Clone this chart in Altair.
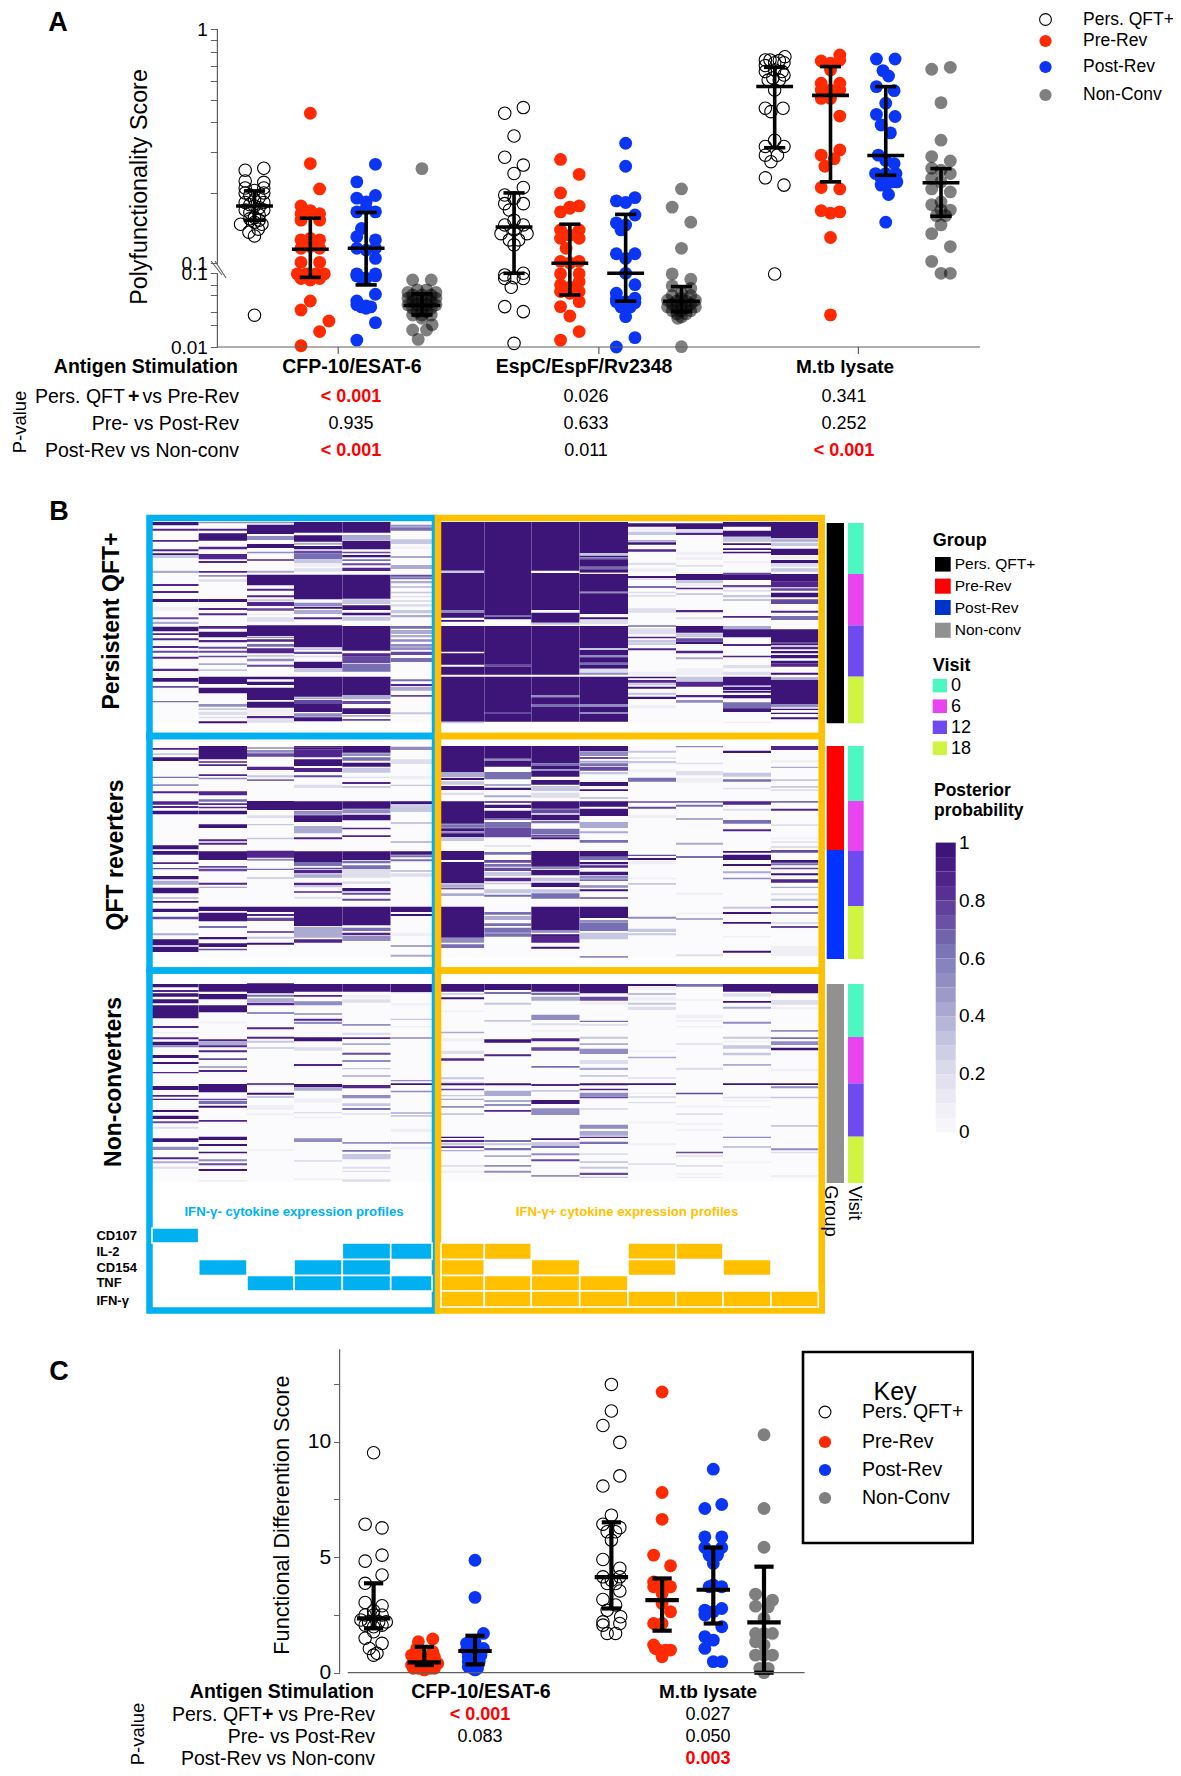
import altair as alt
import pandas as pd

FONT = "Liberation Sans"
RED, BLUE, GRAY = "#ff2a00", "#0a35f5", "#7f7f7f"
AXC = "#5f5f5f"

# ---------- Panel A: (swarm offset, score) per group ----------
A_PERS_CFP = [(-1,.25),(1,.255),(-1,.225),(1,.222),(-1,.21),(1,.21),(0,.205),(-1,.2),(1,.2),(-.5,.196),(.5,.191),(0,.187),(-1,.182),(1,.182),(-.5,.178),(.5,.173),(0,.176),(-1,.169),(1,.169),(-.5,.165),(.5,.161),(0,.157),(-.5,.155),(.5,.153),(0,.15),(-1.5,.147),(.8,.147),(-.6,.136),(.4,.14),(0,.131),(0,.027)]
A_PRE_CFP = [(0,.438),(0,.267),(1,.208),(-1,.176),(-1,.163),(1,.163),(0,.168),(-1,.153),(1,.153),(-1,.126),(1,.126),(0,.128),(-1,.116),(1,.116),(0,.118),(-1,.101),(1,.101),(-1.4,.098),(-.4,.098),(.6,.098),(1.5,.098),(0,.081),(-1,.085),(1,.085),(0,.042),(-1,.0318),(2,.0225),(1,.0162),(-1,.0104)]
A_POST_CFP = [(1,.265),(-1,.223),(1,.195),(-1,.19),(0,.183),(-1,.166),(1,.166),(0,.172),(-.5,.141),(-1,.13),(1,.126),(-1,.116),(1,.116),(0,.114),(1,.105),(-1,.098),(1,.098),(-1,.092),(1,.092),(0,.0855),(-.5,.0855),(1,.0519),(-1,.042),(-1,.0375),(0,.036),(-.5,.035),(.5,.035),(0,.0335),(1,.0214),(-1,.0124)]
A_NON_CFP = [(0,.254),(-1,.081),(1,.081),(-1.5,.055),(1.5,.055),(-.5,.0595),(.5,.0595),(0,.0508),(-1,.0508),(1,.0508),(-.5,.0458),(.5,.0458),(-1.5,.0458),(1.5,.0458),(0,.0412),(-1,.0412),(1,.0412),(-.5,.0372),(.5,.0372),(-1.5,.0372),(1.5,.0372),(0,.0335),(-1,.0335),(1,.0335),(-.5,.0302),(.5,.0302),(0,.0272),(-1,.0272),(1,.0272),(0,.0245),(1.1,.02),(-1,.017),(.5,.017),(-.4,.0127)]
A_PERS_ESP = [(-1,.438),(1,.463),(0,.35),(-1,.284),(1,.263),(0,.242),(1,.211),(-1,.196),(0,.19),(-1,.18),(1,.18),(-.5,.169),(0,.153),(-1,.146),(1,.146),(0,.139),(-1.4,.134),(1.4,.134),(-.5,.126),(.5,.126),(0,.12),(-1,.095),(1,.0999),(-1,.085),(0,.087),(1,.085),(-.3,.0645),(-1,.0353),(1,.0302),(0,.0112)]
A_PRE_ESP = [(-1,.278),(1,.24),(-1,.2),(0,.174),(1,.176),(-1,.166),(0,.172),(-1,.139),(1,.139),(0,.132),(-1,.128),(1,.128),(-.4,.116),(-1,.102),(1,.102),(0,.1005),(-1,.098),(1,.098),(-1,.07),(1,.077),(0,.065),(-1,.0565),(1,.0565),(0,.0535),(-1,.0353),(1,.0413),(0,.0263),(1,.0162),(-1,.0124)]
A_POST_ESP = [(0,.326),(0,.26),(-1,.185),(0,.182),(1,.191),(1,.161),(-1,.149),(0,.146),(-.5,.139),(-1,.11),(1,.11),(0,.105),(0,.0999),(1,.07),(-1,.0535),(1,.0458),(-1,.045),(1,.04),(0,.0412),(-1,.0412),(0,.0335),(-.5,.035),(.5,.035),(0,.0258),(1,.0134),(-1,.01)]
A_NON_ESP = [(0,.208),(-1,.174),(1,.15),(0,.116),(-1,.098),(1,.083),(-1,.0675),(1,.0625),(0,.0535),(-1,.05),(1,.05),(0,.046),(-1.5,.043),(1.5,.043),(-.5,.042),(.5,.042),(0,.038),(-1,.038),(1,.038),(-1.5,.035),(1.5,.035),(-.5,.034),(.5,.034),(0,.031),(-1,.031),(1,.031),(-.5,.028),(.5,.028),(0,.0255),(-.4,.0245),(0,.0101)]
A_PERS_MTB = [(-1,.74),(1.1,.764),(0,.72),(-.5,.74),(.5,.735),(-1,.7),(1,.72),(-1,.66),(1,.638),(0,.67),(-.7,.607),(.5,.607),(.8,.66),(-.2,.62),(0,.55),(-1,.46),(.9,.46),(-.4,.445),(0,.336),(-1,.316),(1,.316),(-1,.29),(.3,.29),(-.4,.272),(-1,.232),(1,.216),(0,.0978)]
A_PRE_MTB = [(1,.777),(-1,.732),(0,.716),(1,.74),(0,.67),(-1,.588),(1,.588),(0,.55),(-1,.55),(0,.507),(-1,.507),(1,.55),(1,.426),(-1,.29),(1,.305),(.4,.28),(-.6,.26),(-1,.211),(1,.208),(-1,.168),(0,.164),(1,.166),(0,.129),(0,.0273)]
A_POST_MTB = [(-1,.747),(1,.747),(-.3,.666),(.3,.632),(-1,.569),(.9,.547),(0,.483),(-1,.433),(1,.424),(-.5,.39),(.5,.361),(-.8,.29),(.9,.267),(0,.275),(-1.1,.242),(0,.242),(1.1,.242),(-.5,.231),(.7,.223),(0,.216),(1.2,.223),(-.5,.216),(.3,.197),(0,.15)]
A_NON_MTB = [(-1,.675),(1,.688),(0,.486),(0,.336),(-1,.286),(1,.274),(-1,.255),(0,.25),(1,.242),(-1,.231),(0,.223),(-1,.208),(1,.202),(0,.183),(-1,.178),(1,.169),(0,.169),(-.5,.16),(.5,.16),(0,.146),(-1,.134),(1,.118),(-1,.102),(0,.0999),(1,.0999)]
A_SLOTS = [1,2,3,4,5.65,6.65,7.65,8.65,10.32,11.32,12.31,13.3]
A_MED = [.176,.115,.116,.0365,.143,.1001,.0999,.0418,.57,.522,.289,.221]
A_HI = [.204,.156,.165,.0525,.2,.147,.162,.066,.688,.693,.569,.254]
A_LO = [.153,.088,.0695,.0272,.0999,.0508,.0418,.0302,.312,.223,.238,.159]
A_TICKS = [.01,.02,.03,.05,.07,.0999,.1001,.2,.3,.4,.5,.6,.7,.8,.9,1]

# ---------- Panel C ----------
C_PERS_CFP = [(0,9.52),(-1,6.43),(1,6.27),(1,5.09),(-1,4.83),(1,4.23),(-1,3.87),(-1,3.04),(1,2.9),(0,2.68),(-1,2.5),(0,2.5),(1,2.5),(-1.5,2.28),(-.6,2.2),(.6,2.2),(1.5,2.2),(-1,2.06),(0,1.99),(1,2.06),(0,1.77),(-1,1.49),(1,1.27),(-.5,1.05),(0,.76),(.4,.84)]
C_PRE_CFP = [(-.7,1.34),(1,1.46),(-1.5,.76),(-.9,1.05),(1,.91),(-1,.76),(1.2,.69),(0,.62),(-.7,.48),(.7,.48),(-1.5,.33),(1.6,.4),(-.7,.19),(0,.12),(.7,.19),(-1.3,.19),(1.2,.19),(0,.3)]
C_POST_CFP = [(0,4.87),(0,3.26),(1,1.7),(-1,1.27),(0,1.34),(-1,.98),(1,1.05),(0,.84),(-.8,.69),(.7,.76),(0,.62),(-.8,.48),(.5,.48),(-.3,.19),(.3,.19),(0,.12),(-.8,.26)]
C_PERS_MTB = [(0,12.48),(0,11.33),(-1,10.7),(1,9.97),(1,8.52),(-1,8.08),(0,6.82),(-1,6.43),(1,6.28),(-.5,6.1),(.5,6.1),(0,5.74),(-1,4.9),(1,4.52),(-1,4.15),(1,4.15),(0,4.0),(.5,3.86),(-.5,3.86),(1,3.54),(-1,3.17),(.5,2.93),(-.5,2.7),(1.1,2.42),(-1,2.2),(1,2.13),(-1,2.06),(-.5,1.7),(.5,1.7)]
C_PRE_MTB = [(0,12.15),(0,7.8),(0,6.64),(-1,5.09),(1,4.63),(-1,3.93),(0,3.86),(1,3.72),(-1,3.72),(0,3.43),(0,3.0),(1,2.64),(-1,2.13),(0,2.13),(-1,1.2),(1,.98),(-.4,.98),(.4,.98),(0,.69),(-.8,1.05)]
C_POST_MTB = [(0,8.81),(-1,7.11),(1,7.28),(-1,5.88),(1,5.88),(-1,5.42),(1,5.42),(0,5.23),(-.5,5.09),(.5,5.09),(0,4.73),(-.5,3.72),(1,3.72),(0,3.8),(-1,2.71),(1,2.78),(0,2.64),(-1,2.5),(1,1.99),(-1,1.56),(0,1.41),(-1,1.05),(0,.48),(1,.48)]
C_NON_MTB = [(0,10.3),(0,7.11),(0,5.43),(-1,3.4),(1,3.14),(-1,2.88),(.5,2.85),(0,2.35),(-1,1.7),(1,1.7),(0,1.7),(-1,1.34),(0,1.2),(-1,.76),(1,.76),(0,.76),(-.5,.19),(.5,.19),(0,0)]
C_SLOTS = [1,2,3,5.69,6.69,7.7,8.7]
C_MED = [2.35,.45,.94,4.14,3.14,3.59,2.18]
C_HI = [3.87,1.12,1.6,6.51,4.08,5.42,4.59]
C_LO = [1.92,.33,.36,2.78,1.82,2.13,0]
C_TICKS = [0,2.5,5,7.5,10,12.5]

# ---------- Panel B heat map: "first_row-last_row:level" bands per column ----------
HEAT_1 = [
"66-76:9 86-92:8 120-125:8 148-154:8 160-166:9 166-174:3 212-219:4 252-258:8 273-279:8 297-306:9 320-332:1 352-358:7 365-372:4 380-394:9 400-405:8 415-421:8 438-444:8 452-458:7 470-476:8 506-513:8 534-545:9 558-563:7 603-607:6",
"66-70:5 86-92:8 100-122:9 140-148:8 162-178:8 183-189:8 213-218:8 225-230:5 238-245:2 297-306:9 324-330:8 340-346:8 378-386:8 395-412:9 420-427:8 440-446:7 452-458:7 467-472:7 490-495:4 508-513:3 530-552:9 563-580:9 612-620:5 625-630:3 635-645:2 650-655:2 664-670:9",
"66-70:5 74-102:9 108-120:5 132-144:9 155-160:5 178-182:8 212-218:4 224-256:9 266-272:8 286-292:8 298-304:3 306-318:8 325-332:7 340-346:1 352-365:2 376-408:9 410-414:5 418-425:8 432-440:6 445-460:8 465-470:3 476-484:5 494-500:7 530-538:9 545-555:9 563-600:9 605-623:9 625-645:1 648-655:8 658-668:2",
"66-98:9 106-125:9 128-134:4 138-148:9 152-160:7 160-178:6 178-190:3 192-200:1 205-215:2 224-298:9 308-318:5 320-326:9 330-342:4 352-358:8 376-442:9 445-450:3 455-462:7 467-472:2 485-505:9 506-516:3 530-590:9 592-598:4 600-612:7 612-636:9 640-650:5 652-664:9",
"66-98:9 105-120:4 122-148:9 155-160:7 165-172:9 178-183:6 190-196:7 203-213:8 224-296:9 298-312:3 316-330:9 338-346:9 350-362:3 378-452:9 460-470:8 470-490:7 492-515:6 530-585:9 585-598:4 603-612:7 625-642:9 645-650:4 657-662:7",
"74-80:5 82-92:6 118-132:3 140-146:1 168-174:4 195-207:4 224-230:7 232-238:6 243-250:4 258-264:3 275-280:3 288-292:2 300-306:2 312-320:2 330-340:3 345-352:4 378-386:6 390-402:4 405-412:4 418-425:5 432-440:5 442-450:5 455-465:7 474-486:6 538-544:6 552-558:8 560-572:4 585-590:7 637-643:3",
"66-212:9 212-219:3 219-330:9 330-338:5 338-353:9 360-365:9 378-455:9 460-494:9 500-524:9 530-665:9 665-670:3",
"66-345:9 345-350:6 350-358:9 378-494:9 494-500:7 500-524:9 530-636:9 636-642:7 642-665:9",
"66-212:9 219-330:9 338-368:9 368-374:3 378-524:9 530-585:9 585-592:5 592-612:9 612-620:6 620-665:9",
"66-160:9 160-167:3 167-172:9 172-178:6 178-200:9 200-208:6 208-218:9 218-222:1 222-275:9 275-280:5 280-342:9 352-358:9 360-372:2 378-445:9 445-450:3 450-465:9 465-472:5 472-488:9 488-495:6 495-506:9 506-518:2 518-524:5 530-612:9 612-620:5 620-636:9 636-642:5 642-665:9",
"70-80:9 82-92:1 95-105:3 120-125:4 127-134:9 148-155:8 188-195:2 205-215:1 228-234:9 234-240:2 258-264:6 275-280:2 285-290:2 325-338:2 376-380:6 385-402:2 410-415:8 420-428:3 430-435:3 445-451:8 515-525:1 530-535:9 540-548:8 550-556:3 560-566:9 578-585:3 590-597:9 615-625:1",
"70-88:9 88-98:2 98-105:8 155-165:1 170-180:1 195-200:2 222-240:9 240-250:3 250-258:1 263-268:8 280-285:3 330-337:8 352-358:2 378-398:9 400-412:3 415-425:7 425-432:9 452-460:8 472-478:4 505-525:1 530-545:3 545-560:8 585-592:8 600-608:5",
"66-80:9 92-110:9 110-125:3 130-135:9 145-150:9 155-160:9 183-190:1 218-225:7 225-240:9 255-262:7 270-275:2 285-292:3 297-303:3 348-353:8 378-388:4 388-412:9 432-438:8 467-472:8 495-505:2 515-525:2 530-555:9 555-558:5 560-570:9 572-578:9 585-595:9 607-625:6 625-636:9 665-670:1",
"66-115:9 118-125:4 128-138:3 146-165:9 168-178:1 180-190:9 190-200:2 205-215:3 222-245:9 245-262:8 265-272:7 278-292:9 298-312:7 332-338:8 348-360:6 388-428:9 430-436:9 440-448:8 453-460:9 465-475:9 482-490:9 490-500:8 518-524:9 532-540:4 540-612:9 612-622:5 626-630:9 638-642:9 652-658:9",
]
HEAT_2 = [
"36-41:8 52-57:3 64-75:9 122-126:6 145-150:5 166-172:8 196-206:8 210-216:8 224-235:9 328-340:9 345-356:9 379-384:8 396-400:7 420-430:9 434-446:4 455-472:9 483-489:3 495-500:9 518-528:9 542-550:7 592-598:4 610-628:9 632-648:9",
"30-70:9 76-80:8 85-90:8 115-120:8 125-130:5 166-178:8 190-197:6 202-207:8 212-217:8 224-235:9 265-276:9 310-316:8 320-326:8 346-372:9 390-395:7 398-406:7 440-446:8 452-456:4 512-525:9 530-556:9 570-576:6 603-610:9 622-633:9 638-643:7",
"34-38:5 42-50:5 52-62:7 92-102:8 118-124:3 130-135:6 195-222:9 238-246:2 264-268:3 305-310:3 344-365:8 368-374:5 398-402:6 424-428:3 512-528:9 534-540:8 545-555:7 586-590:8 602-608:3 620-626:9",
"30-34:8 34-40:9 40-64:8 70-90:9 96-108:8 118-124:7 146-156:2 196-222:9 224-236:5 238-258:9 270-292:4 304-310:8 346-378:9 378-390:6 395-400:7 402-412:8 415-425:4 440-448:8 450-454:3 466-470:8 482-488:2 512-570:9 572-605:4 610-620:8",
"30-50:9 52-60:5 64-74:6 80-92:9 95-110:3 122-126:2 138-144:8 150-156:3 196-218:9 220-232:5 236-253:9 275-280:8 298-303:8 346-372:9 374-382:6 388-400:6 400-425:2 436-444:2 456-466:9 470-476:7 488-494:7 512-568:9 575-585:6 590-598:8 600-615:5",
"32-42:5 70-84:2 120-130:1 146-150:3 196-205:9 208-228:3 258-264:3 316-320:4 346-356:9 358-364:6 370-376:6 402-408:3 412-422:2 512-528:9 534-540:9 590-600:1 628-632:5 656-662:4",
"30-108:9 108-124:4 126-132:9 136-146:3 150-162:9 170-177:2 196-263:9 265-275:6 277-286:9 286-292:5 292-304:9 304-315:3 345-372:9 378-442:9 445-455:4 457-460:9 472-480:4 512-605:9 605-620:5 625-636:6",
"30-68:9 68-74:5 74-92:9 108-130:6 144-150:4 155-162:9 178-184:4 196-200:9 206-216:9 224-246:9 246-252:6 258-275:6 275-304:7 328-332:2 348-356:6 372-380:7 384-392:6 395-405:7 408-420:3 425-436:8 440-445:3 460-472:3 476-482:6 528-536:6 540-552:4 562-570:6 575-590:6 592-602:6",
"30-82:9 82-90:6 90-100:9 100-105:5 105-122:9 132-146:9 150-165:3 170-185:2 196-218:9 220-232:7 236-252:9 254-262:6 278-295:6 296-302:7 304-310:9 345-392:9 392-400:5 402-418:9 425-436:3 440-453:9 460-470:3 472-488:6 512-582:9 582-590:5 595-600:9 600-620:8 632-638:9",
"30-45:9 46-60:5 64-68:9 74-80:4 82-90:6 92-104:7 108-115:3 138-150:9 160-165:9 183-189:3 196-212:9 218-240:9 258-276:4 286-292:4 312-320:6 345-362:9 362-372:6 378-385:9 388-395:8 407-418:9 420-428:5 430-435:6 448-455:5 460-466:9 484-488:7 512-546:9 552-560:5 560-585:6 590-610:3 660-665:5",
"44-50:3 64-68:2 75-82:3 100-108:1 125-137:6 196-200:7 212-218:7 236-246:1 356-360:7 366-372:9 374-385:1 425-430:1 441-446:3 542-548:5 578-588:3 592-598:3",
"30-34:5 80-85:2 105-118:2 125-140:1 195-200:6 206-212:6 246-252:4 320-326:4 360-366:6 470-476:1 530-535:1 546-552:4 655-661:2",
"44-51:9 110-122:3 130-137:6 155-160:2 196-206:8 218-224:2 252-263:6 280-286:8 345-350:9 356-372:9 384-390:9 406-412:4 425-430:5 512-518:3 528-534:9 558-563:9 600-604:1 644-650:9",
"30-42:8 72-80:1 92-96:4 130-135:3 150-155:3 160-165:2 195-200:6 218-224:8 265-270:2 305-310:1 316-320:2 330-336:2 342-350:7 372-380:9 382-388:6 395-400:7 412-418:9 430-440:8 452-456:4 472-478:2 488-494:3 510-516:8 528-534:5 558-564:2 570-576:7 630-660:1",
]
HEAT_3 = [
"42-52:9 60-66:8 70-80:9 88-100:9 106-145:9 168-174:8 186-190:1 202-208:8 215-226:9 226-232:5 255-264:9 276-282:9 306-310:8 348-360:9 375-380:8 386-390:8 420-426:9 437-447:9 454-460:7 470-476:2 505-516:9 530-540:5 562-568:8 574-580:4 590-596:2",
"42-65:9 72-88:9 106-127:9 155-160:1 208-214:8 214-226:4 226-232:8 241-247:8 265-270:7 288-294:4 300-306:8 342-367:9 386-390:7 392-402:6 407-413:9 450-455:8 500-510:9 522-528:9 545-550:9 568-574:5 580-586:7 597-603:9 630-635:1",
"40-70:9 74-80:6 85-97:4 98-106:8 126-132:5 172-178:8 200-206:8 212-218:3 232-236:3 340-344:9 345-348:1 368-374:9 378-384:3 405-420:1 430-436:1 538-542:1",
"42-65:9 75-80:8 94-106:5 130-134:5 146-152:8 155-162:5 202-214:9 232-242:2 282-288:8 342-352:9 352-362:4 385-398:1 426-430:2 440-445:1 505-516:5 570-575:2 625-630:1",
"42-65:9 75-85:1 88-98:2 162-167:5 188-195:2 202-207:8 220-225:4 248-254:7 270-276:5 294-298:3 316-320:4 345-355:8 375-385:5 400-408:3 414-420:6 430-434:2 516-521:5 540-545:6 552-568:3 590-596:2 602-606:2 628-635:2",
"42-66:9 66-70:2 100-106:1 146-150:3 168-172:1 202-206:5 330-334:5 340-345:9 362-367:5 427-431:4 435-440:3 476-486:1 516-521:5 530-538:1",
"42-65:9 70-74:3 82-88:9 122-126:1 185-190:4 205-214:1 242-252:2 265-272:8 322-328:3 335-340:2 340-346:9 356-361:7 375-379:3 386-390:4 408-413:5 430-435:3 500-504:9 510-516:8 518-526:3 529-534:8 540-544:4 585-590:2 602-608:1",
"42-60:9 66-72:6 98-104:3 150-155:3 208-218:9 253-259:8 340-346:9 362-378:4 390-396:4 402-408:5 420-425:8 510-516:6 520-526:3 534-541:6 556-561:4 585-590:5 602-608:5",
"42-65:9 68-75:6 80-92:4 134-150:5 160-166:2 180-185:1 205-214:8 232-242:7 288-293:6 342-348:8 360-365:3 390-402:9 415-435:5 505-510:9 516-528:3 528-534:6 550-556:5 568-574:7 615-620:5",
"42-70:9 80-92:7 96-104:1 152-156:6 162-167:2 200-206:3 220-225:4 236-252:5 270-282:2 293-300:4 315-320:3 340-346:9 356-361:8 368-380:5 380-385:7 414-420:2 464-476:5 483-497:4 500-504:8 515-522:6 550-555:2 574-579:3 590-596:3 608-615:7 620-624:3",
"42-48:9 48-60:1 70-74:4 80-92:1 98-104:3 110-120:2 242-246:1 260-265:4 322-326:2 340-345:9 368-372:1 378-384:2 396-400:2 455-460:1 520-526:1 580-585:2",
"42-50:6 88-92:1 134-145:1 150-155:1 168-172:1 220-224:2 293-300:2 368-373:7 407-412:1 430-435:2 460-465:1 478-482:1 545-550:7 556-560:2 585-590:2 610-614:1 620-624:1",
"42-65:9 70-80:2 93-98:9 110-116:4 155-161:5 200-206:3 212-217:1 226-236:3 248-256:3 282-287:4 340-345:9 380-385:2 390-394:1 408-412:1 500-504:5 528-534:3 575-578:1",
"42-70:9 90-104:2 112-118:1 180-185:5 202-207:6 214-225:5 233-241:9 296-304:1 340-345:9 349-355:5 380-385:3 465-470:3 535-541:5 545-550:2 615-622:1",
]
HEAT_EXTENT = [(66,670),(30,665),(42,635)]
HEAT_COLS = [0,1,2,3,4,5,7,8,9,10,11,12,13,14]

# Cytokine profile grid: (row, column) that are expressed
CYTO_ROWS = ["CD107","IL-2","CD154","TNF","IFN-γ"]
CYTO_LEFT = [(0,0),(1,4),(1,5),(2,1),(2,3),(2,4),(3,2),(3,3),(3,4),(3,5)]
CYTO_RIGHT = [(1,7),(1,8),(1,11),(1,12),(2,7),(2,9),(2,11),(2,13),(3,7),(3,8),(3,9),(3,10),
              (4,7),(4,8),(4,9),(4,10),(4,11),(4,12),(4,13),(4,14)]

# Side annotation bars, in heat-map rows
VISIT_EDGES = [[69,222,376,530,670],[30,195,345,510,669],[42,201,340,500,639]]
VISIT_COLORS = ["#4cf7c1","#ea44f2","#6e4af0","#cff542"]
GROUP_EDGES = [[69,670],[30,342,669],[42,639]]
GROUP_COLORS = [["#000000"],["#ff0000","#0033ff"],["#919191"]]
COLORBAR = [0,.05,.1,.15,.2,.25,.3,.35,.4,.45,.5,.55,.6,.65,.7,.75,.8,.85,.9,.95]
COLORBAR_TICKS = [0,.2,.4,.6,.8,1]
PURPLE_STOPS = [0,.125,.25,.375,.5,.625,.75,.875,1]
PURPLE_COLORS = ["#fcfbfd","#efedf5","#dadaeb","#bcbddc","#9e9ac8","#807dba","#6a51a3","#54278f","#3d1478"]

# ---------- helpers ----------
L = []

def T(s, x, y, size=18, bold=False, color="black", align="center", angle=None):
    kw = dict(font=FONT, fontSize=size, color=color, align=align, baseline="middle",
              fontWeight="bold" if bold else "normal")
    if angle is not None:
        kw["angle"] = angle
    L.append(alt.Chart(pd.DataFrame({"t": [s]})).mark_text(**kw).encode(
        x=alt.value(x - 8), y=alt.value(y - 8), text="t:N"))

def marker(kind, x, y):
    df = pd.DataFrame({"k": [kind]})
    if kind == "pers":
        m = alt.Chart(df).mark_point(filled=False, stroke="black", strokeWidth=1.1, size=140, opacity=1)
    else:
        m = alt.Chart(df).mark_circle(color={"pre": RED, "post": BLUE, "non": GRAY}[kind], size=150, opacity=1)
    L.append(m.encode(x=alt.value(x - 8), y=alt.value(y - 8)))

def box(x0, x1, y0, y1, **kw):
    L.append(alt.Chart(pd.DataFrame({"k": [0]})).mark_rect(**kw).encode(
        x=alt.value(x0 - 8), x2=alt.value(x1 - 8), y=alt.value(y0 - 8), y2=alt.value(y1 - 8)))

def swarm(groups, slots, xs, ys, kind, non_alpha=1.0):
    rows = [{"x": s + o / 6, "y": v} for g, s in zip(groups, slots) for o, v in g]
    df = pd.DataFrame(rows)
    if kind == "pers":
        m = alt.Chart(df).mark_point(filled=False, stroke="black", strokeWidth=1.1, size=155, opacity=1)
    elif kind == "non":
        m = alt.Chart(df).mark_circle(color="black" if non_alpha < 1 else GRAY, size=165, opacity=non_alpha)
    else:
        m = alt.Chart(df).mark_circle(color=RED if kind == "pre" else BLUE, size=165, opacity=1)
    L.append(m.encode(x=alt.X("x:Q", scale=xs, axis=None), y=alt.Y("y:Q", scale=ys, axis=None)))

def bars(slots, med, hi, lo, xs, ys, w):
    v = pd.DataFrame({"x": slots, "hi": hi, "lo": lo})
    L.append(alt.Chart(v).mark_rule(color="black", strokeWidth=w).encode(
        x=alt.X("x:Q", scale=xs, axis=None), y=alt.Y("lo:Q", scale=ys, axis=None), y2="hi:Q"))
    rows = []
    for s, m, h, l in zip(slots, med, hi, lo):
        rows += [{"a": s - .33, "b": s + .33, "y": m}, {"a": s - .19, "b": s + .19, "y": h},
                 {"a": s - .19, "b": s + .19, "y": l}]
    L.append(alt.Chart(pd.DataFrame(rows)).mark_rule(color="black", strokeWidth=w).encode(
        x=alt.X("a:Q", scale=xs, axis=None), x2="b:Q", y=alt.Y("y:Q", scale=ys, axis=None)))

# ---------- Panel A ----------
XA = alt.Scale(domain=[1, 13.3], range=[246.5, 933], zero=False, nice=False)
YA = alt.Scale(type="log", domain=[.01, .0999, .1001, 1], range=[339, 265.3, 255.3, 21.3], nice=False)
swarm([A_PERS_CFP, A_PERS_ESP, A_PERS_MTB], A_SLOTS[0::4], XA, YA, "pers")
swarm([A_PRE_CFP, A_PRE_ESP, A_PRE_MTB], A_SLOTS[1::4], XA, YA, "pre")
swarm([A_POST_CFP, A_POST_ESP, A_POST_MTB], A_SLOTS[2::4], XA, YA, "post")
swarm([A_NON_CFP, A_NON_ESP, A_NON_MTB], A_SLOTS[3::4], XA, YA, "non", non_alpha=.5)
bars(A_SLOTS, A_MED, A_HI, A_LO, XA, YA, 3.6)

# axis A: broken left axis and baseline
L.append(alt.Chart(pd.DataFrame({"a": [1, .0999], "b": [.1001, .01]})).mark_rule(color=AXC, strokeWidth=1.2).encode(
    x=alt.value(217.4 - 8),
    y=alt.Y("a:Q", scale=YA, title=None, axis=alt.Axis(
        orient="left", offset=-(217.4 - 8), values=A_TICKS, domain=False, grid=False, tickColor=AXC, tickSize=7,
        labelFont=FONT, labelFontSize=19, labelColor="black", labelOverlap=False, labelPadding=3,
        labelExpr="datum.value==1?'1':(datum.value==0.01?'0.01':(abs(datum.value-0.1)<0.001?'0.1':''))")),
    y2="b:Q"))
L.append(alt.Chart(pd.DataFrame({"a": [.33], "b": [14.0], "y": [.01]})).mark_rule(color=AXC, strokeWidth=1.2).encode(
    x=alt.X("a:Q", scale=XA, axis=None), x2="b:Q", y=alt.Y("y:Q", scale=YA, axis=None)))
L.append(alt.Chart(pd.DataFrame({"x": [2.5, 7.17, 11.82]})).mark_rule(color=AXC, strokeWidth=1.2).encode(
    x=alt.X("x:Q", scale=XA, axis=None), y=alt.value(339), y2=alt.value(346)))
for xa, xb, ya, yb in [(211, 222, 261, 275), (215, 226, 261, 278)]:
    L.append(alt.Chart(pd.DataFrame({"k": [0]})).mark_rule(color=AXC, strokeWidth=1.1).encode(
        x=alt.value(xa - 8), x2=alt.value(xb - 8), y=alt.value(ya - 8), y2=alt.value(yb - 8)))

T("A", 58, 23, 27, True)
T("Polyfunctionality Score", 140, 187, 23.3, angle=270)
T("Antigen Stimulation", 238, 367, 19.5, True, align="right")
T("CFP-10/ESAT-6", 352, 367, 19.5, True)
T("EspC/EspF/Rv2348", 584, 367, 19.5, True)
T("M.tb lysate", 845, 367, 19, True)
T("Pers. QFT", 35, 397, 19.5, align="left")
T("+", 128, 397, 19.5, True, align="left")
T("vs Pre-Rev", 239, 397, 19.5, align="right")
T("Pre- vs Post-Rev", 239, 424, 19.5, align="right")
T("Post-Rev vs Non-conv", 239, 451, 19.5, align="right")
T("P-value", 20, 422, 18.5, angle=270)
for x, vals in [(351, ["< 0.001", "0.935", "< 0.001"]), (586, ["0.026", "0.633", "0.011"]), (844, ["0.341", "0.252", "< 0.001"])]:
    for y, v in zip([397, 424, 451], vals):
        red = v.startswith("<")
        T(v, x, y, 18, red, "#ff0000" if red else "black")
for k, name, y in [("pers", "Pers. QFT+", 19.5), ("pre", "Pre-Rev", 41), ("post", "Post-Rev", 67), ("non", "Non-Conv", 95)]:
    marker(k, 1045.5, y)
    T(name, 1083, y, 17.5, align="left")

# ---------- Panel B ----------
XH = alt.Scale(domain=list(range(16)),
               range=[144, 190.7, 239, 286, 334.3, 382.7, 424, 433, 476.3, 523.3, 571.7, 620, 668, 715, 763, 810.3],
               zero=False, nice=False)
YH = [alt.Scale(domain=[0, 750], range=[o - 8, o - 8 + 250], zero=False, nice=False) for o in (500, 736, 970)]
CH = alt.Scale(domain=PURPLE_STOPS, range=PURPLE_COLORS)

for heat, (r0, r1), ys in zip([HEAT_1, HEAT_2, HEAT_3], HEAT_EXTENT, YH):
    rows = []
    for c, s in zip(HEAT_COLS, heat):
        rows.append({"c0": c, "c1": c + 1, "r0": r0, "r1": r1, "v": 0.01})
        for tok in s.split():
            span, lev = tok.split(":")
            a, b = span.split("-")
            rows.append({"c0": c, "c1": c + 1, "r0": int(a), "r1": int(b), "v": int(lev) / 9})
    L.append(alt.Chart(pd.DataFrame(rows)).mark_rect().encode(
        x=alt.X("c0:Q", scale=XH, axis=None), x2="c1:Q",
        y=alt.Y("r0:Q", scale=ys, axis=None), y2="r1:Q",
        color=alt.Color("v:Q", scale=CH, legend=None)))

# frames
for y0, y1 in [(518, 736), (736, 970.5), (970.5, 1310.5)]:
    box(149.5, 435, y0, y1, fillOpacity=0, stroke="#00b0f0", strokeWidth=6.5)
for y0, y1 in [(518, 736), (736, 970.5), (970.5, 1310.5)]:
    box(438, 821.7, y0, y1, fillOpacity=0, stroke="#ffc000", strokeWidth=6.5)

# annotation bars
for edges, cols, ys in zip(GROUP_EDGES, GROUP_COLORS, YH):
    for a, b, col in zip(edges[:-1], edges[1:], cols):
        L.append(alt.Chart(pd.DataFrame({"a": [a], "b": [b]})).mark_rect(color=col).encode(
            x=alt.value(818.7), x2=alt.value(836), y=alt.Y("a:Q", scale=ys, axis=None), y2="b:Q"))
for edges, ys in zip(VISIT_EDGES, YH):
    for a, b, col in zip(edges[:-1], edges[1:], VISIT_COLORS):
        L.append(alt.Chart(pd.DataFrame({"a": [a], "b": [b]})).mark_rect(color=col).encode(
            x=alt.value(840), x2=alt.value(855.7), y=alt.Y("a:Q", scale=ys, axis=None), y2="b:Q"))

# cytokine grid
YC = alt.Scale(domain=[0, 1, 2, 3, 4, 5], range=[1220, 1235, 1251.5, 1267.5, 1283, 1299], zero=False, nice=False)
for cells, col in [(CYTO_LEFT, "#00b0f0"), (CYTO_RIGHT, "#ffc000")]:
    df = pd.DataFrame([{"r0": r, "r1": r + 1, "c0": c, "c1": c + 1} for r, c in cells])
    L.append(alt.Chart(df).mark_rect(color=col, stroke="white", strokeWidth=1.6).encode(
        x=alt.X("c0:Q", scale=XH, axis=None), x2="c1:Q", y=alt.Y("r0:Q", scale=YC, axis=None), y2="r1:Q"))
for name, y in zip(CYTO_ROWS, [1236, 1252, 1268, 1283, 1301]):
    T(name, 96.4, y, 13, True, align="left")
T("IFN-γ- cytokine expression profiles", 294, 1212, 13.2, True, "#00b0f0")
T("IFN-γ+ cytokine expression profiles", 627, 1212, 13.2, True, "#ffc000")

T("B", 59, 512, 27, True)
T("Persistent QFT+", 112, 621, 23, True, angle=270)
T("QFT reverters", 116, 855, 23, True, angle=270)
T("Non-converters", 114, 1082, 23, True, angle=270)
T("Group", 831, 1211, 18.5, angle=90)
T("Visit", 855, 1203, 18.5, angle=90)

T("Group", 932.7, 541, 18, True, align="left")
for (y0, y1, yt), name, col in zip([(557, 571.6, 564), (578.6, 593.7, 586), (600, 615, 608), (622.7, 637.8, 630)],
                                   ["Pers. QFT+", "Pre-Rev", "Post-Rev", "Non-conv"],
                                   ["#000000", "#ff0000", "#0033cc", "#919191"]):
    box(935, 950.7, y0, y1, color=col)
    T(name, 954.7, yt, 15.5, align="left")
T("Visit", 932.7, 666, 18, True, align="left")
for (y0, y1, yt), name, col in zip([(679, 692.4, 686), (699.4, 713, 707), (720.6, 734, 728), (741.4, 755, 749)],
                                   ["0", "6", "12", "18"], VISIT_COLORS):
    box(932.7, 947, y0, y1, color=col)
    T(name, 951, yt, 18, align="left")
T("Posterior", 934, 791, 17.5, True, align="left")
T("probability", 934, 811, 17.5, True, align="left")
YBAR = alt.Scale(domain=[0, 1], range=[1124.4, 834.6], zero=False, nice=False)
L.append(alt.Chart(pd.DataFrame({"a": COLORBAR, "b": [v + .05 for v in COLORBAR]})).mark_rect().encode(
    x=alt.value(927.7), x2=alt.value(947.7), y=alt.Y("a:Q", scale=YBAR, axis=None), y2="b:Q",
    color=alt.Color("b:Q", scale=CH, legend=None)))
L.append(alt.Chart(pd.DataFrame({"v": COLORBAR_TICKS, "t": ["0", "0.2", "0.4", "0.6", "0.8", "1"]})).mark_text(
    font=FONT, fontSize=19, align="left", baseline="middle", color="black").encode(
    x=alt.value(951), y=alt.Y("v:Q", scale=YBAR, axis=None), text="t:N"))

# ---------- Panel C ----------
XC = alt.Scale(domain=[1, 8.7], range=[365.6, 756], zero=False, nice=False)
YCC = alt.Scale(domain=[0, 14], range=[1664.7, 1341.3], zero=False, nice=False)
swarm([C_PERS_CFP, C_PERS_MTB], [C_SLOTS[0], C_SLOTS[3]], XC, YCC, "pers")
swarm([C_PRE_CFP, C_PRE_MTB], [C_SLOTS[1], C_SLOTS[4]], XC, YCC, "pre")
swarm([C_POST_CFP, C_POST_MTB], [C_SLOTS[2], C_SLOTS[5]], XC, YCC, "post")
swarm([C_NON_MTB], [C_SLOTS[6]], XC, YCC, "non")
bars(C_SLOTS, C_MED, C_HI, C_LO, XC, YCC, 4.2)
L.append(alt.Chart(pd.DataFrame({"a": [14], "b": [0]})).mark_rule(color=AXC, strokeWidth=1.2).encode(
    x=alt.value(339.6 - 8),
    y=alt.Y("a:Q", scale=YCC, title=None, axis=alt.Axis(
        orient="left", offset=-(339.6 - 8), values=C_TICKS, domain=False, grid=False, tickColor=AXC, tickSize=6,
        labelFont=FONT, labelFontSize=21, labelColor="black", labelOverlap=False, labelPadding=3,
        labelExpr="datum.value%5==0?datum.label:''")),
    y2="b:Q"))
L.append(alt.Chart(pd.DataFrame({"a": [.49], "b": [9.5], "y": [0]})).mark_rule(color=AXC, strokeWidth=1.2).encode(
    x=alt.X("a:Q", scale=XC, axis=None), x2="b:Q", y=alt.Y("y:Q", scale=YCC, axis=None)))

T("C", 59, 1372, 27, True)
T("Functional Differention Score", 282, 1515, 21.7, angle=270)
T("Antigen Stimulation", 374, 1692, 19.5, True, align="right")
T("CFP-10/ESAT-6", 481, 1692, 19.5, True)
T("M.tb lysate", 708, 1692, 19, True)
T("Pers. QFT", 172, 1715, 19.5, align="left")
T("+", 262, 1715, 19.5, True, align="left")
T("vs Pre-Rev", 375, 1715, 19.5, align="right")
T("Pre- vs Post-Rev", 375, 1737, 19.5, align="right")
T("Post-Rev vs Non-conv", 375, 1758.5, 19.5, align="right")
T("P-value", 138, 1734, 18.5, angle=270)
for x, y, v in [(480, 1715, "< 0.001"), (480, 1737, "0.083"), (708, 1715, "0.027"), (708, 1737, "0.050"), (708, 1758.5, "0.003")]:
    red = v in ("< 0.001", "0.003")
    T(v, x, y, 18, red, "#ff0000" if red else "black")

box(803, 972.7, 1352, 1543, fillOpacity=0, stroke="black", strokeWidth=2.6)
T("Key", 895, 1392, 25)
for k, name, y in [("pers", "Pers. QFT+", 1412), ("pre", "Pre-Rev", 1442), ("post", "Post-Rev", 1470), ("non", "Non-Conv", 1498)]:
    marker(k, 825, y)
    T(name, 862, y, 19.5, align="left")

chart = alt.layer(*L).resolve_scale(x="independent", y="independent", color="independent").properties(
    width=1165, height=1760, padding=0, autosize="none", background="white"
).configure_view(stroke=None)
chart.save("out.html", embed_options={"renderer": "svg", "actions": False})
